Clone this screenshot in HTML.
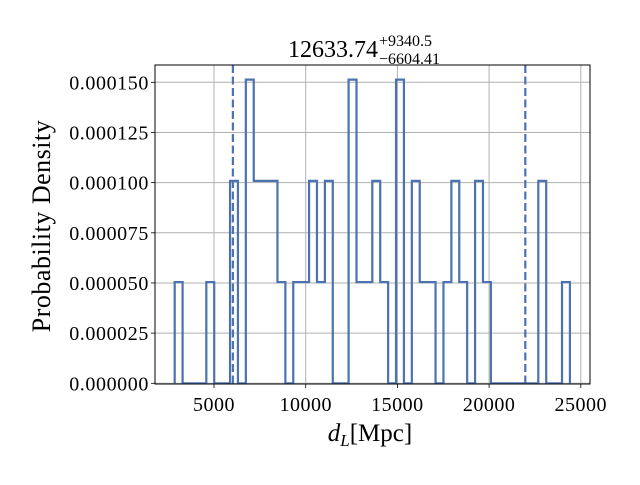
<!DOCTYPE html>
<html><head><meta charset="utf-8"><style>
body{margin:0;background:#fff;}
svg text{font-family:"Liberation Serif",serif;fill:#000;}
</style></head><body>
<svg id="chart" width="640" height="480" viewBox="0 0 640 480">
<g id="grid"></g>
<g id="marks"></g>
<g id="axes"></g>
<text x="378" y="57" font-size="24" text-anchor="end">12633.74</text>
<text x="379" y="46" font-size="16">+9340.5</text>
<text x="379" y="64" font-size="16">−6604.41</text>
<text x="370" y="441" font-size="25" text-anchor="middle"><tspan font-style="italic">d</tspan><tspan font-size="17" font-style="italic" dy="5">L</tspan><tspan dy="-5">[Mpc]</tspan></text>
<text transform="translate(50,226) rotate(-90)" font-size="26" text-anchor="middle" letter-spacing="0.5">Probability Density</text>
</svg>
<script>
const counts=[1,0,0,0,1,0,0,2,0,3,2,2,2,1,0,1,1,2,1,2,0,0,3,1,1,2,1,0,3,0,2,1,1,0,1,2,1,0,2,1,0,0,0,0,0,0,2,0,0,1];
const binStart=[2857];
const binWidth=[431];
const xTicks=[5000,10000,15000,20000,25000];
const yTicks=[0,0.000025,0.00005,0.000075,0.0001,0.000125,0.00015];
const yTickLabels=["0.000000","0.000025","0.000050","0.000075","0.000100","0.000125","0.000150"];
const quantiles=[6029.33,21974.24];
const L=155,R=590,T=65,B=384;
const X=v=>122.3+v*0.01834;
const Y=v=>383.3-v*(301/0.00015);
const NS="http://www.w3.org/2000/svg";
function mk(tag,attrs,parent){const e=document.createElementNS(NS,tag);for(const k in attrs)e.setAttribute(k,attrs[k]);parent.appendChild(e);return e;}
const grid=document.getElementById('grid'),marks=document.getElementById('marks'),axes=document.getElementById('axes');
const total=counts.reduce((a,b)=>a+b,0);
const dens=counts.map(c=>c/(total*binWidth[0]));
xTicks.forEach(t=>{
 const l=mk('line',{x1:X(t),x2:X(t),y1:T,y2:B,stroke:'#b0b0b0','stroke-width':1},grid);
 
 
 const tk=mk('line',{x1:X(t),x2:X(t),y1:B,y2:B+4,stroke:'#000','stroke-width':0.8},axes);
 
 
 const tx=mk('text',{x:X(t),y:411,'font-size':20,'text-anchor':'middle','letter-spacing':0.5},axes);
 tx.textContent=t;
 
 
});
yTicks.forEach((t,i)=>{
 const l=mk('line',{x1:L,x2:R,y1:Y(t),y2:Y(t),stroke:'#b0b0b0','stroke-width':1},grid);
 
 
 const tk=mk('line',{x1:L-4,x2:L,y1:Y(t),y2:Y(t),stroke:'#000','stroke-width':0.8},axes);
 
 
 const tx=mk('text',{x:L-6,y:Y(t)+7,'font-size':20,'text-anchor':'end','letter-spacing':0.6},axes);
 tx.textContent=yTickLabels[i];
 
 
});
let d='M'+X(binStart[0])+','+Y(0);
dens.forEach((v,i)=>{const x0=X(binStart[0]+i*binWidth[0]),x1=X(binStart[0]+(i+1)*binWidth[0]);d+=' L'+x0+','+Y(v)+' L'+x1+','+Y(v);});
d+=' L'+X(binStart[0]+counts.length*binWidth[0])+','+Y(0);
const p=mk('path',{d:d,fill:'none',stroke:'#4c72b0','stroke-width':2.2,'stroke-linejoin':'miter'},marks);


quantiles.forEach(q=>{
 const l=mk('line',{x1:X(q),x2:X(q),y1:T,y2:B,stroke:'#4c72b0','stroke-width':2.2,'stroke-dasharray':'8,3.5'},marks);
 
 
});
const fr=mk('rect',{x:L,y:T,width:R-L,height:B-T,fill:'none',stroke:'#000','stroke-width':1},axes);


</script>
</body></html>
